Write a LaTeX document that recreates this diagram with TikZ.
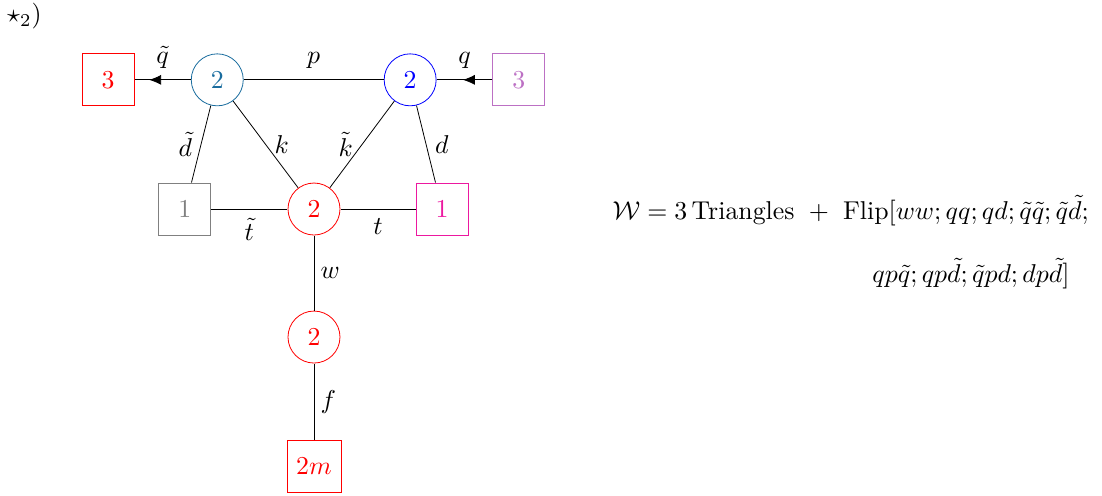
\documentclass[tikz,border=0pt]{standalone}
\usepackage{amsmath, amssymb}
\usetikzlibrary{arrows.meta, decorations.markings}
\definecolor{nodeteal}{RGB}{25,108,158}
\definecolor{flavviolet}{RGB}{188,112,196}
\definecolor{flavpink}{RGB}{236,24,160}

\begin{document}
\begin{tikzpicture}[>=Latex,
  every node/.style={scale=1.29},
  gauge/.style={circle, draw, minimum size=20.15pt, inner sep=0pt},
  flavour/.style={rectangle, draw, minimum size=20.15pt, inner sep=0pt},
  midarrow/.style={postaction={decorate}, decoration={markings,
      mark=at position #1 with {\arrow{Latex[length=6pt,width=5pt]}}}}]
  \useasboundingbox (-5.518,-5.026) rectangle (13.848,3.673);
  \node[anchor=base west, inner sep=0pt] (tag) at (-5.40,3.27) {$\star_2)$};
  % gauge nodes
  \node[gauge, nodeteal] (ul) at (-1.70,2.27) {$2$};
  \node[gauge, blue] (ur) at (1.69,2.27) {$2$};
  \node[gauge, red] (c) at (0,0) {$2$};
  \node[gauge, red] (b) at (0,-2.25) {$2$};
  % flavour nodes
  \node[flavour, red] (fl) at (-3.62,2.27) {$3$};
  \node[flavour, flavviolet] (fr) at (3.60,2.27) {$3$};
  \node[flavour, gray] (ml) at (-2.27,0) {$1$};
  \node[flavour, flavpink] (mr) at (2.25,0) {$1$};
  \node[flavour, red, minimum width=21pt] (bot) at (0,-4.52) {$2m$};
  % edges
  \draw[midarrow=0.74] (ul) -- node[midway, above=0.8pt] {$\tilde q$} (fl);
  \draw (ul) -- node[midway, above=0.8pt] {$p$} (ur);
  \draw[midarrow=0.53] (fr) -- node[midway, above=0.8pt] {$q$} (ur);
  \draw (ul) -- node[midway, left=0pt] {$\tilde d$} (ml);
  \draw (ul) -- node[midway, right=0pt] {$k$} (c);
  \draw (ur) -- node[midway, left=0pt] {$\tilde k$} (c);
  \draw (ur) -- node[midway, right=0pt] {$d$} (mr);
  \draw (ml) -- node[midway, below=0pt] {$\tilde t$} (c);
  \draw (c) -- node[midway, below=0pt] {$t$} (mr);
  \draw (c) -- node[midway, right=-1pt] {$w$} (b);
  \draw (b) -- node[midway, right=-1pt] {$f$} (bot);
  % superpotential
  \node[anchor=base west, inner sep=0pt] (W1) at (5.237,-0.176)
    {$\mathcal{W} = 3\,\text{Triangles}\ +\ \text{Flip}[ww;qq;qd;\tilde q\tilde q;\tilde q\tilde d;$};
  \node[anchor=base east, inner sep=0pt] (W2) at (13.285,-1.283)
    {$qp\tilde q;qp\tilde d;\tilde qpd;dp\tilde d]$};
\end{tikzpicture}
\end{document}
